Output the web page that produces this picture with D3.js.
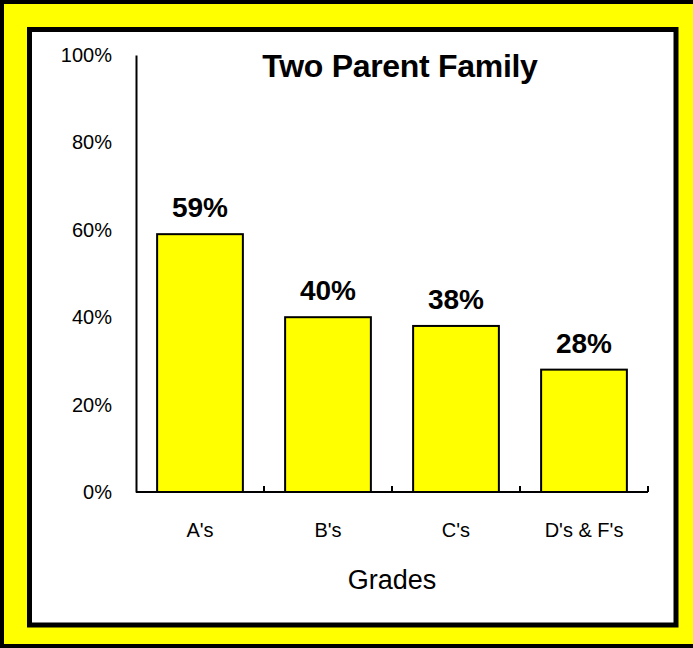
<!DOCTYPE html>
<html>
<head>
<meta charset="utf-8">
<script src="https://cdn.jsdelivr.net/npm/d3@7/dist/d3.min.js"></script>
<style>
  html, body { margin: 0; padding: 0; background: #fff; }
  svg { display: block; }
  text { font-family: "Liberation Sans", Arial, sans-serif; fill: #000; }
</style>
</head>
<body>
<svg id="chart" width="693" height="648"></svg>
<script>
// Share of students from two-parent families, by grade band
const categories = ["A's", "B's", "C's", "D's & F's"];
const values = [0.59, 0.40, 0.38, 0.28];
const yTicks = [0, 0.2, 0.4, 0.6, 0.8, 1.0];
const title = "Two Parent Family";
const xTitle = "Grades";

const svg = d3.select("#chart");
const W = 693, H = 648;

// Yellow frame, outlined on the left, top and bottom
svg.append("rect").attr("x", 0).attr("y", 0).attr("width", W).attr("height", H)
  .attr("fill", "#ffff00");
svg.append("path")
  .attr("d", `M${W},2 H2 V${H - 2} H${W}`)
  .attr("fill", "none").attr("stroke", "#000").attr("stroke-width", 4);

// White plotting panel
svg.append("rect").attr("x", 29.5).attr("y", 29.5).attr("width", 646.5).attr("height", 595.5)
  .attr("fill", "#fff").attr("stroke", "#000").attr("stroke-width", 5);

const x = d3.scaleBand().domain(categories).range([136, 648])
  .paddingInner(0.33).paddingOuter(0.165);
const y = d3.scaleLinear().domain([0, 1]).range([492, 55]);

// Bars
svg.append("g").selectAll("rect").data(values).join("rect")
  .attr("x", (d, i) => x(categories[i]))
  .attr("y", d => y(d))
  .attr("width", x.bandwidth())
  .attr("height", d => y(0) - y(d))
  .attr("fill", "#ffff00")
  .attr("stroke", "#000")
  .attr("stroke-width", 2);

// Value labels
svg.append("g").selectAll("text").data(values).join("text")
  .attr("x", (d, i) => x(categories[i]) + x.bandwidth() / 2)
  .attr("y", d => y(d) - 17)
  .attr("text-anchor", "middle")
  .attr("font-size", 28)
  .attr("font-weight", "bold")
  .text(d => d3.format(".0%")(d));

// Y axis: line and percentage labels, no tick marks
const yAxis = d3.axisLeft(y).tickValues(yTicks).tickFormat(d3.format(".0%"))
  .tickSize(0).tickPadding(24);
const gy = svg.append("g").attr("transform", "translate(136,0)").call(yAxis);
gy.select(".domain").attr("stroke", "#000").attr("stroke-width", 2);
gy.selectAll("text").attr("font-size", 20)
  .attr("font-family", "'Liberation Sans', Arial, sans-serif").attr("fill", "#000");

// X axis: baseline with small upward ticks between categories
const gx = svg.append("g").attr("transform", "translate(0,492)");
gx.append("line").attr("x1", 136).attr("x2", 648).attr("y1", 0).attr("y2", 0)
  .attr("stroke", "#000").attr("stroke-width", 2);
const step = x.step();
const bounds = categories.map((c, i) => 136 + step * (i + 1));
gx.selectAll("line.tick").data(bounds).join("line").attr("class", "tick")
  .attr("x1", d => d).attr("x2", d => d).attr("y1", 0).attr("y2", -6)
  .attr("stroke", "#000").attr("stroke-width", 2);
gx.selectAll("text").data(categories).join("text")
  .attr("x", d => x(d) + x.bandwidth() / 2)
  .attr("y", 45)
  .attr("text-anchor", "middle")
  .attr("font-size", 20)
  .text(d => d);

// Axis title
svg.append("text").attr("x", 392).attr("y", 589).attr("text-anchor", "middle")
  .attr("font-size", 27).text(xTitle);

// Chart title
svg.append("text").attr("x", 400).attr("y", 77).attr("text-anchor", "middle")
  .attr("font-size", 32).attr("font-weight", "bold").attr("letter-spacing", -0.3)
  .text(title);
</script>
</body>
</html>
